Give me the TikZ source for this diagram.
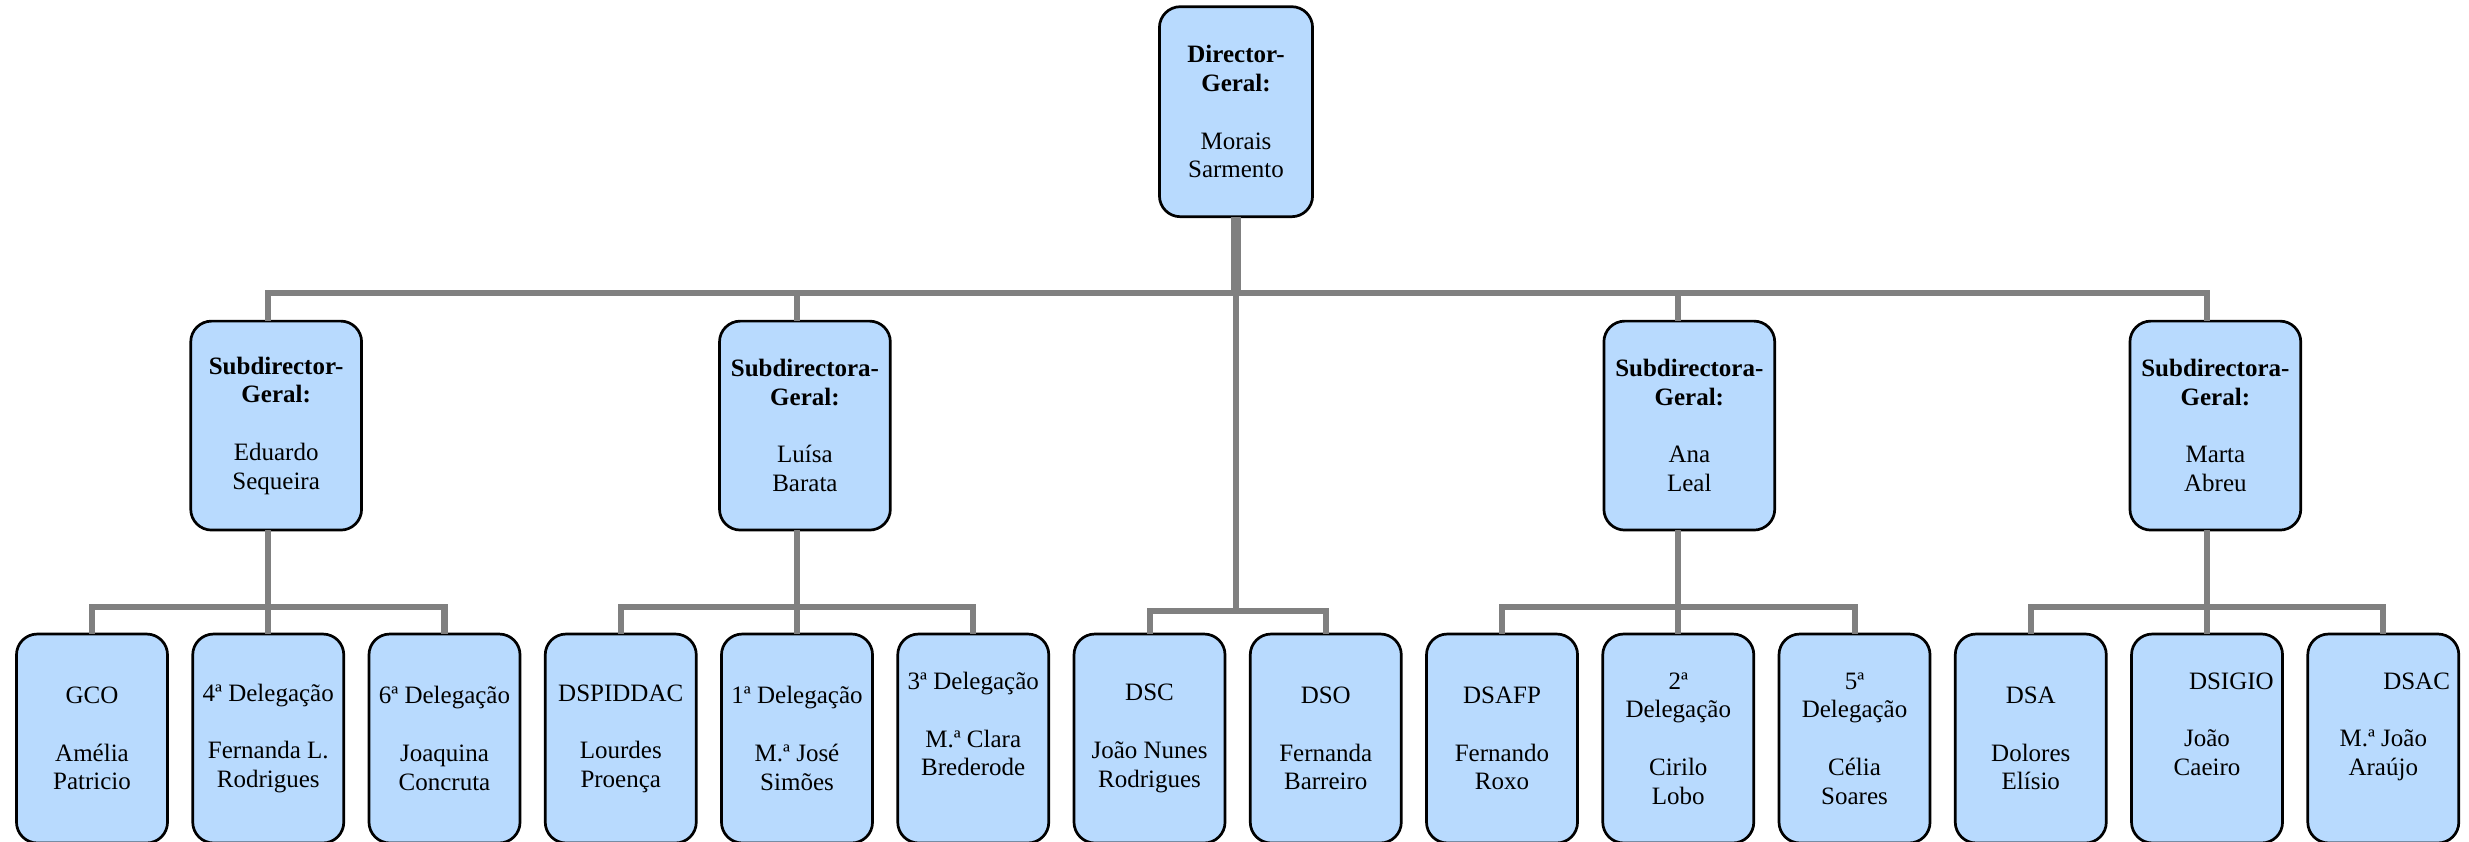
\documentclass[tikz,border=0pt]{standalone}
\usepackage{fontspec}
\setmainfont{Liberation Serif}
\usepackage{tikz}
\usetikzlibrary{positioning}

\definecolor{caixaazul}{HTML}{B8DAFE}
\definecolor{linhacinza}{HTML}{808080}

\begin{document}
\begin{tikzpicture}[
    x=0.48pt, y=-0.48pt,
    caixa/.style={rectangle, draw=black, line width=1.3pt, fill=caixaazul,
                  rounded corners=10pt, outer sep=0pt, inner sep=2pt,
                  minimum width=72.5pt, minimum height=100.3pt, align=center,
                  font=\fontsize{12}{13.8}\selectfont},
    chefe/.style={caixa, minimum width=82pt},
    ligacao/.style={draw=linhacinza, line width=2.9pt}
]
\useasboundingbox (0,0) rectangle (2469,841);
\clip (0,0) rectangle (2469,841);

% direcções de serviço e delegações
\node[caixa] (gco) at (92,738.5) {GCO\\~\\Amélia\\Patricio};
\node[caixa, right=12.1pt of gco] (del4) {4ª Delegação\\~\\Fernanda L.\\Rodrigues};
\node[caixa, right=12.1pt of del4] (del6) {6ª Delegação\\~\\Joaquina\\Concruta};
\node[caixa, right=12.1pt of del6] (dspiddac) {DSPIDDAC\\~\\Lourdes\\Proença};
\node[caixa, right=12.1pt of dspiddac] (del1) {1ª Delegação\\~\\M.ª José\\Simões};
\node[caixa, right=12.1pt of del1] (del3) {3ª Delegação\\~\\M.ª Clara\\Brederode\\~};
\node[caixa, right=12.1pt of del3] (dsc) {DSC\\~\\João Nunes\\Rodrigues};
\node[caixa, right=12.1pt of dsc] (dso) {DSO\\~\\Fernanda\\Barreiro};
\node[caixa, right=12.1pt of dso] (dsafp) {DSAFP\\~\\Fernando\\Roxo};
\node[caixa, right=12.1pt of dsafp] (del2) {2ª\\Delegação\\~\\Cirilo\\Lobo};
\node[caixa, right=12.1pt of del2] (del5) {5ª\\Delegação\\~\\Célia\\Soares};
\node[caixa, right=12.1pt of del5] (dsa) {DSA\\~\\Dolores\\Elísio};
\node[caixa, right=12.1pt of dsa] (dsigio) {\makebox[64pt][r]{DSIGIO}\\~\\João\\Caeiro\\~};
\node[caixa, right=12.1pt of dsigio] (dsac) {\makebox[64pt][r]{DSAC}\\~\\M.ª João\\Araújo\\~};

% subdirectores
\node[chefe, above=49.9pt of del4, xshift=3.8pt] (eduardo) {\textbf{Subdirector-}\\\textbf{Geral:}\\~\\Eduardo\\Sequeira};
\node[chefe, above=49.9pt of del1, xshift=3.8pt] (luisa) {\textbf{Subdirectora-}\\\textbf{Geral:}\\~\\Luísa\\Barata};
\node[chefe, above=49.9pt of del2, xshift=5.3pt] (ana) {\textbf{Subdirectora-}\\\textbf{Geral:}\\~\\Ana\\Leal};
\node[chefe, above=49.9pt of dsigio, xshift=4pt] (marta) {\textbf{Subdirectora-}\\\textbf{Geral:}\\~\\Marta\\Abreu};

% director-geral
\node[caixa, minimum width=73.5pt, minimum height=100.8pt] (director) at (1236,111.7) {\textbf{Director-}\\\textbf{Geral:}\\~\\Morais\\Sarmento};

% niveis das barras
\coordinate (nivel1) at (0,293);
\coordinate (nivel2) at (0,607);
\coordinate (nivel3) at (0,611);

\draw[ligacao, line width=4.8pt] (director.south) -- (director.south |- nivel1);
\draw[ligacao] (director.south |- nivel1) -- (director.south |- nivel3);
\draw[ligacao] (dsc.north) -- (dsc.north |- nivel3) -- (dso.north |- nivel3) -- (dso.north);

\draw[ligacao] (del4.north |- eduardo.north) -- (del4.north |- nivel1)
    -- (dsigio.north |- nivel1) -- (dsigio.north |- marta.north);
\draw[ligacao] (del1.north |- nivel1) -- (del1.north |- luisa.north);
\draw[ligacao] (del2.north |- nivel1) -- (del2.north |- ana.north);

\foreach \cp/\fa/\fb/\fc in {eduardo/gco/del4/del6, luisa/dspiddac/del1/del3,
                             ana/dsafp/del2/del5, marta/dsa/dsigio/dsac} {
    \draw[ligacao] (\fb.north |- \cp.south) -- (\fb.north);
    \draw[ligacao] (\fa.north) -- (\fa.north |- nivel2) -- (\fc.north |- nivel2) -- (\fc.north);
}
\end{tikzpicture}
\end{document}
